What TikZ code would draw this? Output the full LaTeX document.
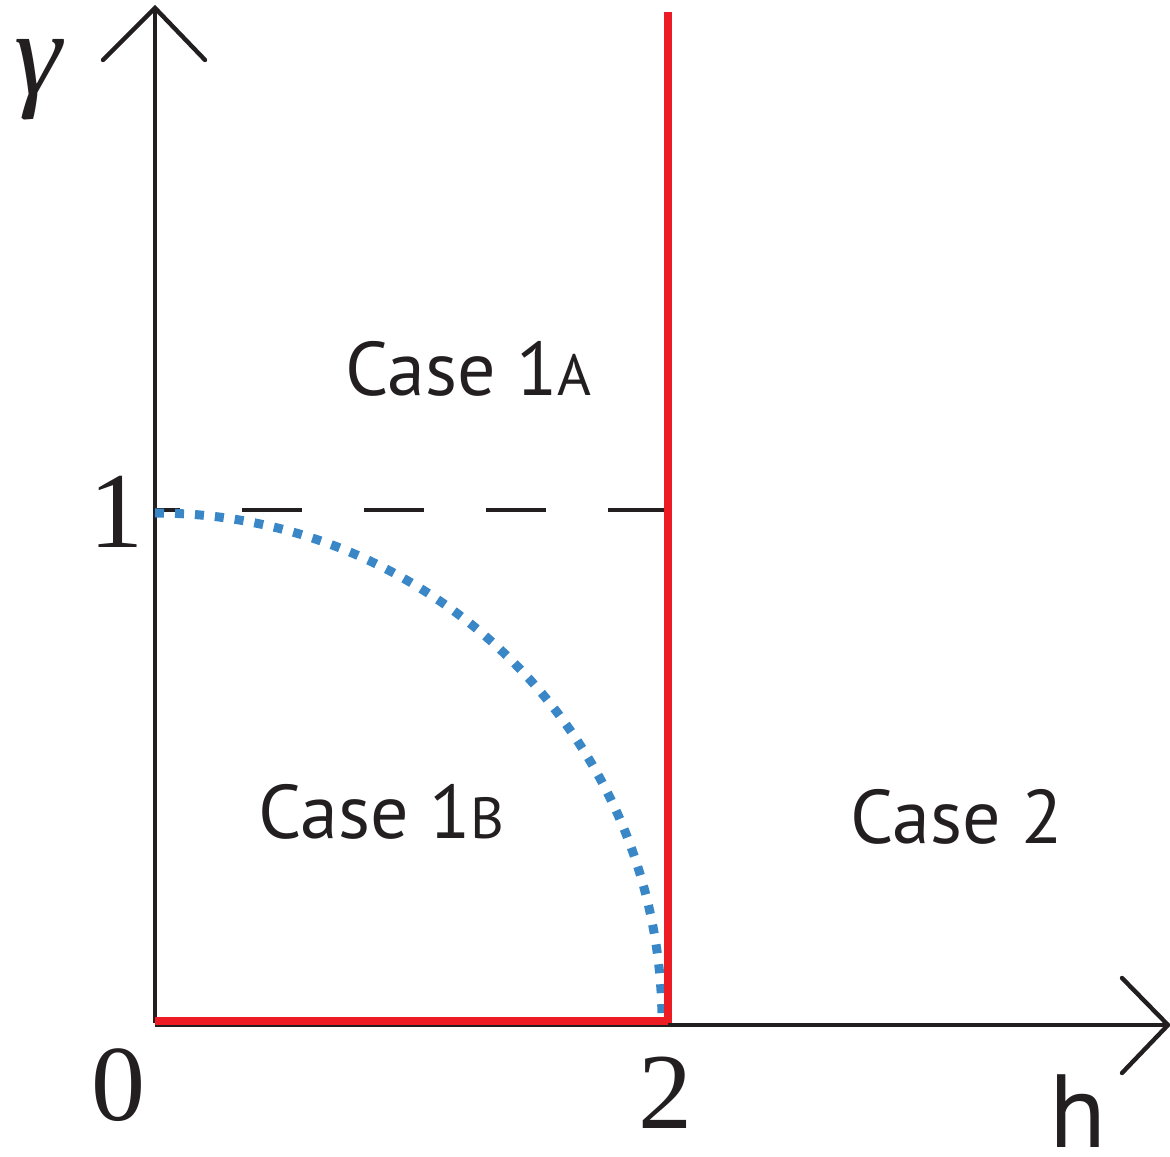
\documentclass[tikz,border=0pt]{standalone}
\usepackage{fontspec}
\usepackage{xcolor}
\usepackage{tikz}
\setmainfont{Liberation Serif}
\newfontfamily\casefont{PT Sans}
\definecolor{phasered}{HTML}{ED1C24}
\definecolor{phaseblue}{HTML}{3A87C8}
\definecolor{axisblack}{HTML}{231F20}

\begin{document}
\begin{tikzpicture}[x=0.5pt, y=0.5pt,
    axis/.style={draw=axisblack, line width=2.2pt},
    tipline/.style={draw=axisblack, line width=2.2pt, line cap=round},
    border/.style={draw=phasered, line width=4.2pt},
    caselabel/.style={anchor=base west, inner sep=0pt, text=axisblack,
      font=\casefont\fontsize{38}{38}\selectfont},
    ticklabel/.style={anchor=base, inner sep=0pt, text=axisblack,
      font=\fontsize{54}{54}\selectfont}]
  \useasboundingbox (0,0) rectangle (1170,1156);
  % axes
  \coordinate (origin) at (155,133);
  \coordinate (ytop) at (155,1148);
  \coordinate (xend) at (1168,131);
  \coordinate (yleft) at (103,1096);
  \coordinate (yright) at (205,1096);
  \coordinate (xup) at (1122,178);
  \coordinate (xdown) at (1122,83);
  \draw[axis] (155,131) -- (xend);
  \draw[axis] (origin) -- (ytop);
  \draw[tipline] (yleft) -- (ytop) -- (yright);
  \draw[tipline] (xup) -- (xend) -- (xdown);
  % phase boundaries
  \coordinate (hzero) at (155,135);
  \coordinate (htwo) at (668,135);
  \coordinate (redtop) at (668,1144);
  \coordinate (gone) at (155,646);
  \coordinate (dashend) at (668,646);
  \draw[draw=axisblack, line width=2pt, dash pattern=on 30pt off 31pt]
    (dashend) -- (gone);
  \draw[draw=phaseblue, line width=4.5pt, dash pattern=on 4.5pt off 5.5pt]
    (155,643) arc[start angle=90, end angle=0, x radius=507, y radius=510];
  \draw[border] (hzero) -- (htwo);
  \draw[border] (668,133) -- (redtop);
  % labels
  \node[ticklabel] (lone) at (116,608) {1};
  \node[ticklabel] (lzero) at (118,36) {0};
  \node[ticklabel] (ltwo) at (665,28) {2};
  \node[anchor=center, inner sep=0pt, text=axisblack,
    font=\itshape\fontsize{60}{60}\selectfont] (lgamma) at (38,1076) {γ};
  \node[anchor=base, inner sep=0pt, text=axisblack,
    font=\casefont\fontsize{52}{52}\selectfont] (lh) at (1078,9) {h};
  \node[caselabel] (caseA) at (345,760)
    {Case 1{\fontsize{29}{29}\selectfont A}};
  \node[caselabel] (caseB) at (258,318)
    {Case 1{\fontsize{29}{29}\selectfont B}};
  \node[caselabel] (caseC) at (850,313) {Case 2};
\end{tikzpicture}
\end{document}
